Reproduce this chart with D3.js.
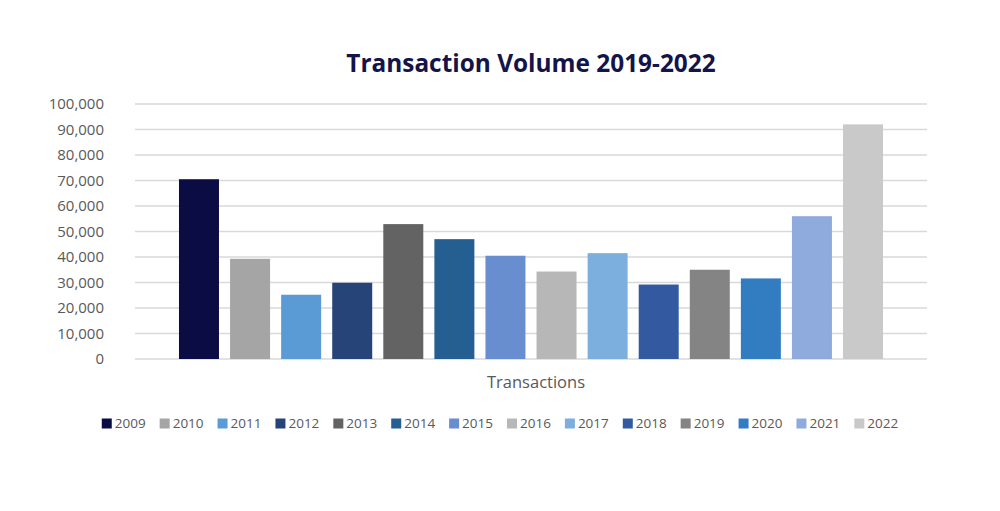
<!DOCTYPE html>
<html>
<head>
<meta charset="utf-8">
<script src="https://cdn.jsdelivr.net/npm/d3@7"></script>
<style>
  body { margin: 0; background: #fff; }
  text { font-family: "Open Sans", "DejaVu Sans", sans-serif; }
</style>
</head>
<body>
<div id="chart"></div>
<script>
// data
const years = ["2009", "2010", "2011", "2012", "2013", "2014", "2015",
               "2016", "2017", "2018", "2019", "2020", "2021", "2022"];
const transactions = [70500, 39300, 25200, 29900, 52900, 47000, 40500,
                      34300, 41500, 29200, 35000, 31600, 56000, 92000];
const yTicks = [0, 10000, 20000, 30000, 40000, 50000, 60000, 70000, 80000, 90000, 100000];
const colors = ["#0c0c45", "#a5a5a5", "#5b9bd5", "#264478", "#636363", "#255e91", "#698ed0",
                "#b7b7b7", "#7cafdd", "#335aa1", "#848484", "#327dc2", "#8faadc", "#c9c9c9"];

const width = 1000, height = 511;
const margin = {top: 104, right: 73, bottom: 152, left: 135};

const svg = d3.select("#chart")
  .append("svg")
    .attr("width", width)
    .attr("height", height);

const x = d3.scaleBand()
  .domain(years)
  .range([margin.left, width - margin.right])
  .paddingInner(0.217)
  .paddingOuter(0.861);

const y = d3.scaleLinear()
  .domain([0, 100000])
  .range([height - margin.bottom, margin.top]);

const color = d3.scaleOrdinal().domain(years).range(colors);

// gridlines
svg.append("g")
  .selectAll("line")
  .data(yTicks)
  .join("line")
    .attr("x1", margin.left)
    .attr("x2", width - margin.right)
    .attr("y1", d => y(d))
    .attr("y2", d => y(d))
    .attr("stroke", "#d9d9d9")
    .attr("stroke-width", 1.6);

// y axis labels
const yAxis = svg.append("g")
  .attr("transform", `translate(${margin.left - 31},0)`)
  .call(d3.axisLeft(y).tickValues(yTicks).tickFormat(d3.format(",")).tickSize(0).tickPadding(0));
yAxis.select(".domain").remove();
yAxis.selectAll("text")
  .style("font-family", "'Open Sans', sans-serif")
  .style("font-size", "15px")
  .attr("fill", "#595959");

// bars
svg.append("g")
  .selectAll("rect")
  .data(years)
  .join("rect")
    .attr("x", d => x(d))
    .attr("width", x.bandwidth())
    .attr("y", (d, i) => y(transactions[i]))
    .attr("height", (d, i) => y(0) - y(transactions[i]))
    .attr("fill", d => color(d));

// title
svg.append("text")
  .attr("x", (margin.left + width - margin.right) / 2)
  .attr("y", 72)
  .attr("text-anchor", "middle")
  .style("font-size", "24.4px")
  .style("font-weight", "bold")
  .attr("fill", "#14134a")
  .text("Transaction Volume 2019-2022");

// category label
svg.append("text")
  .attr("x", (margin.left + width - margin.right) / 2 + 5)
  .attr("y", 388)
  .attr("text-anchor", "middle")
  .style("font-size", "16.5px")
  .attr("fill", "#595959")
  .text("Transactions");

// legend, laid out by measured text widths and centred on the page
const legend = svg.append("g");
const items = legend.selectAll("g")
  .data(years)
  .join("g");
items.append("rect")
  .attr("width", 10)
  .attr("height", 10)
  .attr("y", -9.5)
  .attr("fill", d => color(d));
items.append("text")
  .attr("x", 13)
  .attr("y", 0)
  .style("font-size", "13.5px")
  .attr("fill", "#595959")
  .text(d => d);

const gap = 14;
let offset = 0;
items.each(function() {
  const w = this.querySelector("text").getComputedTextLength();
  d3.select(this).attr("transform", `translate(${offset},0)`);
  offset += 13 + w + gap;
});
const total = offset - gap;
legend.attr("transform", `translate(${(width - total) / 2},428)`);
</script>
</body>
</html>
